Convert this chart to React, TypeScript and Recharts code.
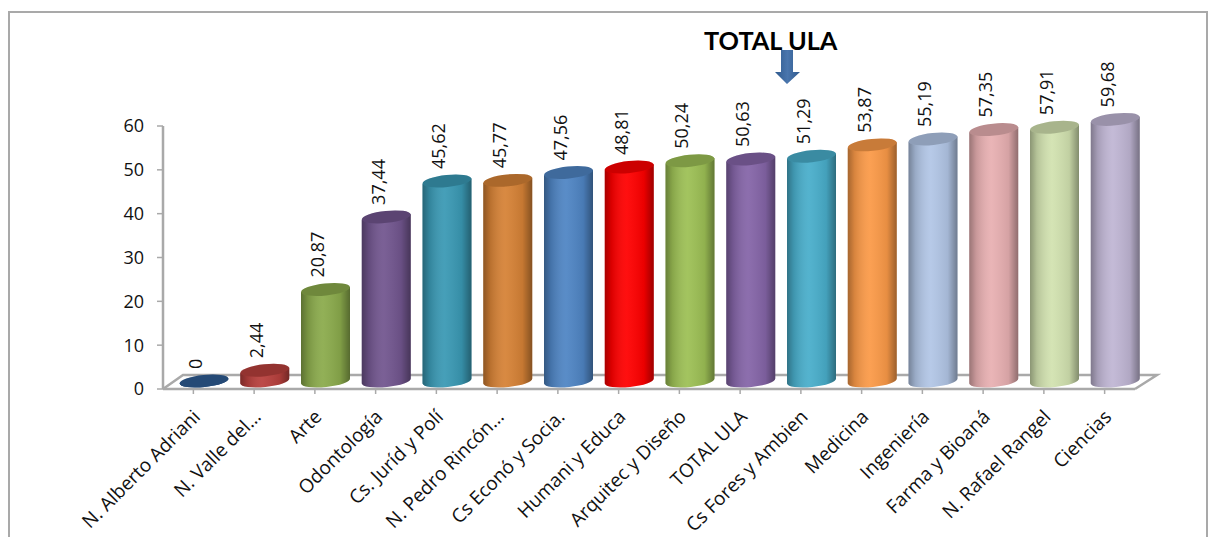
import React from "react";
import { BarChart, Bar, XAxis, YAxis, Cell, LabelList } from "recharts";

const categories = [
  "N. Alberto Adriani", "N. Valle del...", "Arte", "Odontología", "Cs. Juríd y Polí",
  "N. Pedro Rincón...", "Cs Econó y Socia.", "Humani y Educa", "Arquitec y Diseño", "TOTAL ULA",
  "Cs Fores y Ambien", "Medicina", "Ingeniería", "Farma y Bioaná", "N.  Rafael Rangel", "Ciencias",
];
const values = [0, 2.44, 20.87, 37.44, 45.62, 45.77, 47.56, 48.81, 50.24, 50.63, 51.29, 53.87, 55.19, 57.35, 57.91, 59.68];
const colors = [
  "#2f5d94", "#b8403d", "#8bab4c", "#72568f", "#3a99b4", "#d68236", "#4f85c4", "#ff0000",
  "#9dc055", "#8565a8", "#49aecb", "#fb9a48", "#b2c6e6", "#e8b0b2", "#d2e2b0", "#c0b6d4",
];
const yTicks = [0, 10, 20, 30, 40, 50, 60];

const data = categories.map((name, i) => ({ name, value: values[i] }));

const W = 1217, H = 537;
const LEFT = 163, RIGHT = 1135, TOP = 126, BOTTOM = 389;
const GRAY = "#a9a9a9";
const FONT = "'Open Sans', sans-serif";
const DX = 10.5, DY = -8, RY = 6, TILT = 2.6;

function Cylinder(props: any) {
  const { x, y, width, height, fill } = props;
  const w = width;
  const l = x + DX, r = l + w;
  const topC = y + DY, botC = y + height + DY;
  const rx = w / 2;
  const side = `M${l},${topC + TILT} L${l},${botC + TILT} A${rx},${RY} -6 0 0 ${r},${botC - TILT} L${r},${topC - TILT} Z`;
  const cx = l + rx;
  return (
    <g>
      <path d={side} fill={fill} />
      <path d={side} fill="url(#cylShade)" />
      <ellipse cx={cx} cy={topC} rx={rx} ry={RY} fill={fill} transform={`rotate(-6 ${cx} ${topC})`} />
      <ellipse cx={cx} cy={topC} rx={rx} ry={RY} fill="#000" fillOpacity={0.2} transform={`rotate(-6 ${cx} ${topC})`} />
    </g>
  );
}

function ValueLabel(props: any) {
  const { x, y, width, value } = props;
  const cx = x + DX + width / 2 - 8;
  const by = y - 20;
  return (
    <text x={cx} y={by} transform={`rotate(-90 ${cx} ${by})`} dy="0.36em" fontSize={18} fontFamily={FONT} fill="#111" textAnchor="start">
      {String(value).replace(".", ",")}
    </text>
  );
}

function CategoryTick(props: any) {
  const { x, y, payload } = props;
  const tx = x + 8, ty = y + 22;
  return (
    <text x={tx} y={ty} transform={`rotate(-45 ${tx} ${ty})`} fontSize={19} fontFamily={FONT} fill="#111" textAnchor="end">
      {payload.value}
    </text>
  );
}

export default function App() {
  return (
    <div style={{ position: "absolute", left: 0, top: 0, width: W, height: H, background: "#fff", overflow: "hidden" }}>
      <BarChart
        width={W}
        height={H}
        data={data}
        barSize={49}
        margin={{ top: TOP, left: LEFT - 60, right: W - RIGHT, bottom: H - BOTTOM - 100 }}
      >
        <defs>
          <linearGradient id="cylShade" x1="0" x2="1" y1="0" y2="0">
            <stop offset="0" stopColor="#000" stopOpacity={0.34} />
            <stop offset="0.14" stopColor="#000" stopOpacity={0.14} />
            <stop offset="0.45" stopColor="#fff" stopOpacity={0.06} />
            <stop offset="0.8" stopColor="#000" stopOpacity={0.08} />
            <stop offset="1" stopColor="#000" stopOpacity={0.38} />
          </linearGradient>
          <linearGradient id="arrowFill" x1="0" x2="1" y1="0" y2="0">
            <stop offset="0" stopColor="#2f5a8e" />
            <stop offset="0.5" stopColor="#4a76ad" />
            <stop offset="1" stopColor="#2f5a8e" />
          </linearGradient>
        </defs>
        <rect x={9} y={12} width={1198} height={540} fill="none" stroke={GRAY} strokeWidth={2} />
        <path d={`M${LEFT},${BOTTOM} L${LEFT + 20},${BOTTOM - 14} L${RIGHT + 22},${BOTTOM - 14} L${RIGHT},${BOTTOM}`} fill="#fff" stroke={GRAY} strokeWidth={2.5} />
        <XAxis
          dataKey="name"
          interval={0}
          height={100}
          tick={<CategoryTick />}
          tickSize={5}
          axisLine={{ stroke: GRAY, strokeWidth: 2.5 }}
          tickLine={{ stroke: GRAY, strokeWidth: 1.5 }}
        />
        <YAxis
          width={60}
          domain={[0, 60]}
          ticks={yTicks}
          tickSize={6}
          tickMargin={13}
          tick={{ fontSize: 18, fontFamily: FONT, fill: "#111" }}
          axisLine={{ stroke: GRAY, strokeWidth: 2.5 }}
          tickLine={{ stroke: GRAY, strokeWidth: 1.5 }}
        />
        <Bar dataKey="value" isAnimationActive={false} shape={<Cylinder />} minPointSize={0}>
          {data.map((d, i) => (
            <Cell key={d.name} fill={colors[i]} />
          ))}
          <LabelList dataKey="value" content={<ValueLabel />} />
        </Bar>
        <text x={704} y={50} fontSize={25.3} fontWeight={700} fontFamily="Lato, sans-serif" fill="#000">TOTAL ULA</text>
        <path d="M781,50 H793 V72 H800 L787,84 L775,72 H781 Z" fill="url(#arrowFill)" />
      </BarChart>
    </div>
  );
}
